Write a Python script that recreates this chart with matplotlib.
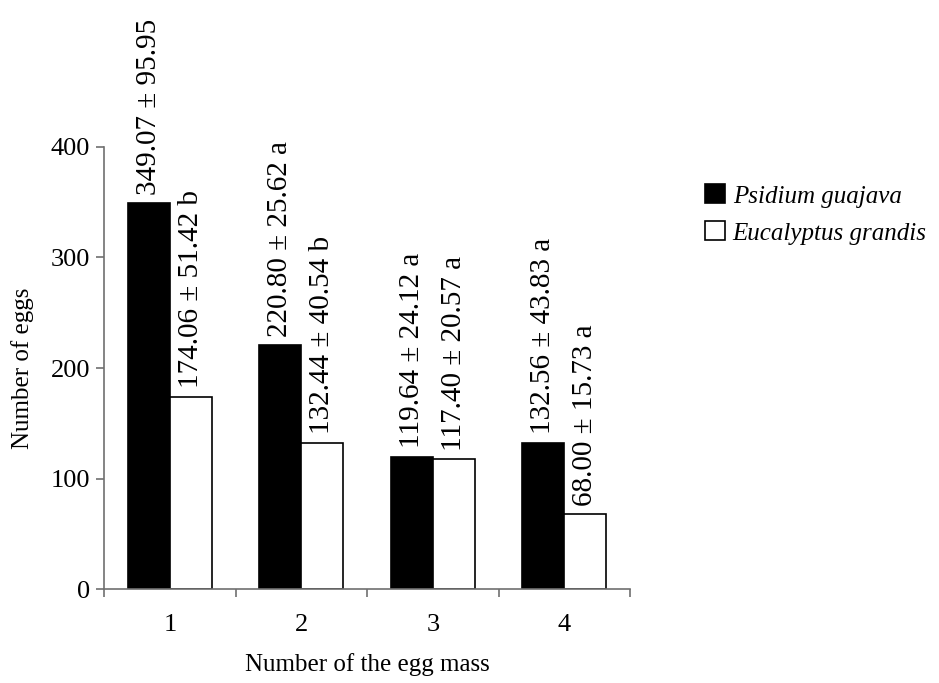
import numpy as np
import matplotlib.pyplot as plt

plt.rcParams['font.family'] = ['Liberation Serif', 'DejaVu Serif']

egg_mass = ['1', '2', '3', '4']
psidium_mean = [349.07, 220.80, 119.64, 132.56]
psidium_sd = [95.95, 25.62, 24.12, 43.83]
psidium_letter = ['', 'a', 'a', 'a']
eucalyptus_mean = [174.06, 132.44, 117.40, 68.00]
eucalyptus_sd = [51.42, 40.54, 20.57, 15.73]
eucalyptus_letter = ['b', 'b', 'a', 'a']

fig = plt.figure(figsize=(9.39, 6.83), dpi=100)
ax = fig.add_axes([0.111, 0.1376, 0.56, 0.6472])

x = np.arange(1, len(egg_mass) + 1)
w = 0.32
axis_col = '#707070'

b1 = ax.bar(x - w / 2, psidium_mean, w, color='black', edgecolor='black',
            linewidth=1.2, label='Psidium guajava')
b2 = ax.bar(x + w / 2, eucalyptus_mean, w, color='white', edgecolor='black',
            linewidth=1.2, label='Eucalyptus grandis')

def label_bars(bars, means, sds, letters):
    for bar, m, s, l in zip(bars, means, sds, letters):
        txt = f'{m:.2f} \u00b1 {s:.2f}'
        if l:
            txt += ' ' + l
        ax.annotate(txt, (bar.get_x() + bar.get_width() / 2, bar.get_height()),
                    xytext=(0, 6), textcoords='offset points',
                    ha='center', va='bottom', rotation=90, fontsize=21,
                    annotation_clip=False)

label_bars(b1, psidium_mean, psidium_sd, psidium_letter)
label_bars(b2, eucalyptus_mean, eucalyptus_sd, eucalyptus_letter)

ax.set_xlim(0.5, len(egg_mass) + 0.5)
ax.set_ylim(0, 400)
ax.set_yticks([0, 100, 200, 300, 400])

# tick marks between the groups, labels under the group centres
ax.set_xticks(np.arange(0.5, len(egg_mass) + 1, 1.0))
ax.set_xticklabels([])
ax.set_xticks(x, minor=True)
ax.set_xticklabels(egg_mass, minor=True)
ax.tick_params(axis='x', which='minor', length=0, pad=18, labelsize=19)
ax.tick_params(axis='x', which='major', length=6, width=1.2, color=axis_col)
ax.tick_params(axis='y', length=6, width=1.2, color=axis_col, labelsize=19, pad=4)

for side in ['top', 'right']:
    ax.spines[side].set_visible(False)
for side in ['left', 'bottom']:
    ax.spines[side].set_color(axis_col)
    ax.spines[side].set_linewidth(1.2)

ax.set_xlabel('Number of the egg mass', fontsize=18, labelpad=12)
ax.set_ylabel('Number of eggs', fontsize=18, labelpad=12)

fig.legend(handles=[b1, b2], loc='center left', bbox_to_anchor=(0.727, 0.686),
           frameon=False, handlelength=0.8, handleheight=0.8, handletextpad=0.3,
           labelspacing=0.55, prop={'style': 'italic', 'size': 18})

fig.savefig('out.png', dpi=100)
